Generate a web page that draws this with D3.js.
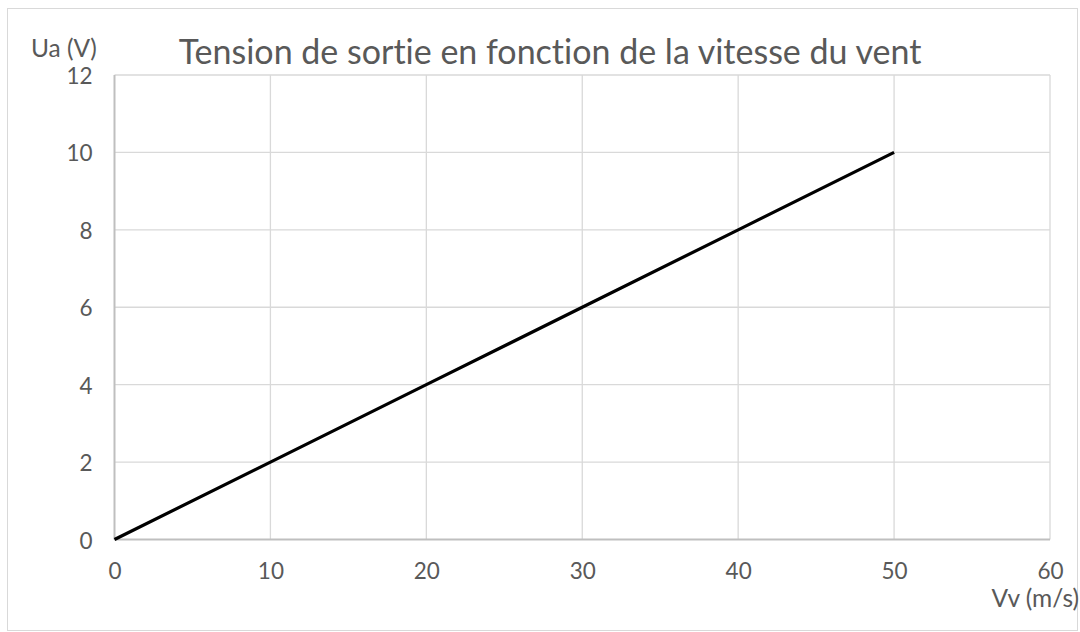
<!DOCTYPE html>
<html>
<head>
<meta charset="utf-8">
<title>Tension de sortie en fonction de la vitesse du vent</title>
<style>
  body { margin: 0; background: #fff; }
  svg text { font-family: Lato, "Open Sans", sans-serif; fill: #595959; font-variant-ligatures: none; }
  path.domain { display: none; }
</style>
</head>
<body>
<svg id="chart" width="1080" height="632"></svg>
<script src="https://cdnjs.cloudflare.com/ajax/libs/d3/7.8.5/d3.min.js"></script>
<script>
// data
var windSpeed = [0, 10, 20, 30, 40, 50];
var voltage = [0, 2, 4, 6, 8, 10];
var xTicks = [0, 10, 20, 30, 40, 50, 60];
var yTicks = [0, 2, 4, 6, 8, 10, 12];

var svg = d3.select("#chart");
var margin = {top: 75, right: 30, bottom: 92.5, left: 114.5};
var width = 1080 - margin.left - margin.right,
    height = 632 - margin.top - margin.bottom;

// outer frame
svg.append("rect")
  .attr("x", 7.5).attr("y", 8.5)
  .attr("width", 1070).attr("height", 622)
  .attr("fill", "none").attr("stroke", "#d9d9d9");

var g = svg.append("g").attr("transform", "translate(" + margin.left + "," + margin.top + ")");

var x = d3.scaleLinear().domain([0, 60]).range([0, width]);
var y = d3.scaleLinear().domain([0, 12]).range([height, 0]);

// gridlines
g.append("g")
  .selectAll("line.vgrid")
  .data(xTicks.slice(1))
  .enter().append("line")
  .attr("x1", function(d) { return x(d); }).attr("x2", function(d) { return x(d); })
  .attr("y1", 0).attr("y2", height)
  .attr("stroke", "#d9d9d9").attr("stroke-width", 1.3);

g.append("g")
  .selectAll("line.hgrid")
  .data(yTicks.slice(1))
  .enter().append("line")
  .attr("x1", 0).attr("x2", width)
  .attr("y1", function(d) { return y(d); }).attr("y2", function(d) { return y(d); })
  .attr("stroke", "#d9d9d9").attr("stroke-width", 1.3);

// axis lines
g.append("line")
  .attr("x1", 0).attr("x2", width).attr("y1", height).attr("y2", height)
  .attr("stroke", "#bfbfbf").attr("stroke-width", 2);
g.append("line")
  .attr("x1", 0).attr("x2", 0).attr("y1", 0).attr("y2", height)
  .attr("stroke", "#bfbfbf").attr("stroke-width", 2);

// tick labels
var xAxis = g.append("g")
  .attr("transform", "translate(0," + (height + 30.5) + ")")
  .call(d3.axisBottom(x).tickValues(xTicks).tickSize(0).tickPadding(0));
xAxis.selectAll("text").attr("dy", null).attr("dominant-baseline", "central");

var yAxis = g.append("g")
  .attr("transform", "translate(-22,0)")
  .call(d3.axisLeft(y).tickValues(yTicks).tickSize(0).tickPadding(0));
yAxis.selectAll("text").attr("dy", null).attr("dominant-baseline", "central");

g.selectAll("g.tick text").style("font-size", "22.5px").style("fill", "#595959");
g.selectAll("g.tick line").remove();

// data line
var line = d3.line()
  .x(function(d, i) { return x(windSpeed[i]); })
  .y(function(d) { return y(d); });

g.append("path")
  .datum(voltage)
  .attr("d", line)
  .attr("fill", "none")
  .attr("stroke", "#000")
  .attr("stroke-width", 3.2);

// title and axis names
svg.append("text")
  .attr("x", 550).attr("y", 63.5)
  .attr("text-anchor", "middle")
  .style("font-size", "34px")
  .text("Tension de sortie en fonction de la vitesse du vent");

svg.append("text")
  .attr("x", 31).attr("y", 47)
  .attr("dominant-baseline", "central")
  .style("font-size", "24.5px")
  .text("Ua (V)");

svg.append("text")
  .attr("x", 1079).attr("y", 597)
  .attr("text-anchor", "end").attr("dominant-baseline", "central")
  .style("font-size", "24.5px")
  .text("Vv (m/s)");
</script>
</body>
</html>
